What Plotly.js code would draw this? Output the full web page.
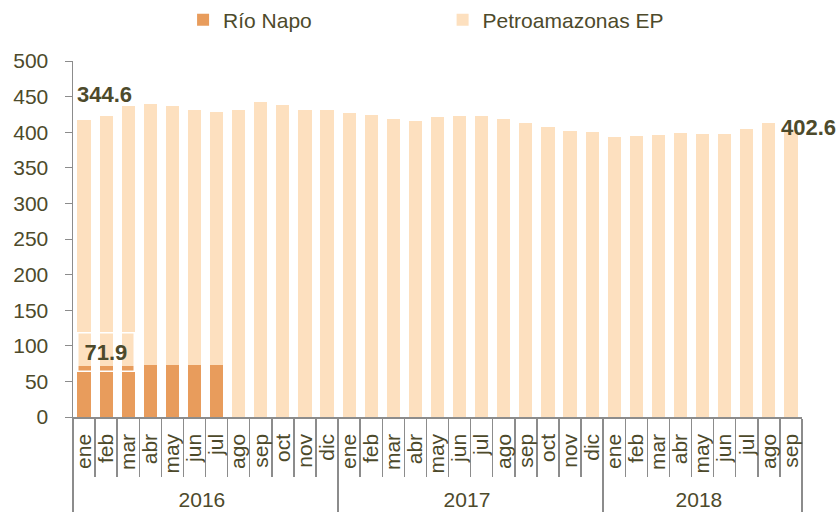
<!DOCTYPE html>
<html>
<head>
<meta charset="utf-8">
<script src="https://cdn.plot.ly/plotly-3.0.1.min.js"></script>
<style>html,body{margin:0;padding:0;background:#fff;}#chart{width:839px;height:524px;}</style>
</head>
<body>
<div id="chart"></div>
<script>
const years = ["2016","2016","2016","2016","2016","2016","2016","2016","2016","2016","2016","2016",
               "2017","2017","2017","2017","2017","2017","2017","2017","2017","2017","2017","2017",
               "2018","2018","2018","2018","2018","2018","2018","2018","2018"];
const months = ["ene","feb","mar","abr","may","jun","jul","ago","sep","oct","nov","dic",
                "ene","feb","mar","abr","may","jun","jul","ago","sep","oct","nov","dic",
                "ene","feb","mar","abr","may","jun","jul","ago","sep"];
const rioNapo = [71.9,71.9,72.2,73.6,73.6,72.8,73.5,0,0,0,0,0,
                 0,0,0,0,0,0,0,0,0,0,0,0,
                 0,0,0,0,0,0,0,0,0];
const petroamazonas = [344.6,350.9,364.2,366.0,363.2,358.9,354.5,430.8,442.0,438.2,430.8,431.2,
                       427.5,424.7,419.1,416.3,420.9,423.2,422.3,418.6,413.1,407.9,401.8,400.8,
                       393.8,394.2,396.1,399.4,398.0,398.0,405.0,412.5,402.6];
const yTicks = [0,50,100,150,200,250,300,350,400,450,500];

const FONT = '"Liberation Sans", Arial, sans-serif';
const TXT = '#4d4a2b';
const x = [years, months];
const n = months.length;

const traces = [
  {type:'bar', name:'Río Napo', x:x, y:rioNapo, marker:{color:'#e89c5c'}, hoverinfo:'skip', legend:'legend'},
  {type:'bar', name:'Petroamazonas EP', x:x, y:petroamazonas, marker:{color:'#fde0bf'}, hoverinfo:'skip', legend:'legend2'}
];
const legendBase = {orientation:'h', xanchor:'left', y:1.115, yanchor:'middle', bgcolor:'rgba(0,0,0,0)',
                    font:{family:FONT, size:21, color:TXT}, itemwidth:30};
const layout = {
  width:839, height:524,
  margin:{l:73, r:37, t:61, b:107, autoexpand:false},
  barmode:'stack', bargap:0.4,
  paper_bgcolor:'#fff', plot_bgcolor:'#fff',
  font:{family:FONT, color:TXT, size:21},
  showlegend:true,
  legend:Object.assign({}, legendBase, {x:0.151}),
  legend2:Object.assign({}, legendBase, {x:0.507}),
  xaxis:{type:'multicategory', tickangle:-90, range:[-0.5, n-0.5], tickmode:'linear', tick0:0, dtick:1,
         showline:true, linecolor:'#8c8c8c', linewidth:1.5,
         ticks:'outside', tickson:'boundaries', ticklen:58, tickcolor:'#8c8c8c', tickwidth:1.5,
         showdividers:true, dividercolor:'#8c8c8c', dividerwidth:1.5, ticklabelstandoff:7,
         tickfont:{family:FONT, size:21, color:TXT}, showgrid:false, zeroline:false},
  yaxis:{range:[0,500], tickvals:yTicks, ticktext:yTicks.map(String), showline:true, linecolor:'#8c8c8c',
         linewidth:1.5, ticks:'outside', ticklen:7, tickcolor:'#8c8c8c', showgrid:false, zeroline:false,
         ticklabelstandoff:12, tickfont:{family:FONT, size:21, color:TXT}},
  annotations:[
    {x:0, y:rioNapo[0]+petroamazonas[0], text:petroamazonas[0].toFixed(1),
     showarrow:false, yanchor:'middle', xanchor:'center', xshift:20, yshift:26,
     font:{family:FONT, size:22, color:TXT, weight:'bold'}},
    {x:0, y:rioNapo[0], text:rioNapo[0].toFixed(1),
     showarrow:false, yanchor:'middle', xanchor:'center', xshift:22, yshift:14,
     bordercolor:'#ffffff', borderwidth:1.5, borderpad:6,
     font:{family:FONT, size:22, color:TXT, weight:'bold'}},
    {x:n-1, y:rioNapo[n-1]+petroamazonas[n-1], text:petroamazonas[n-1].toFixed(1),
     showarrow:false, yanchor:'middle', xanchor:'left', xshift:-12, yshift:3,
     font:{family:FONT, size:22, color:TXT, weight:'bold'}}
  ]
};
Plotly.newPlot('chart', traces, layout, {displayModeBar:false, staticPlot:true});
</script>
</body>
</html>
